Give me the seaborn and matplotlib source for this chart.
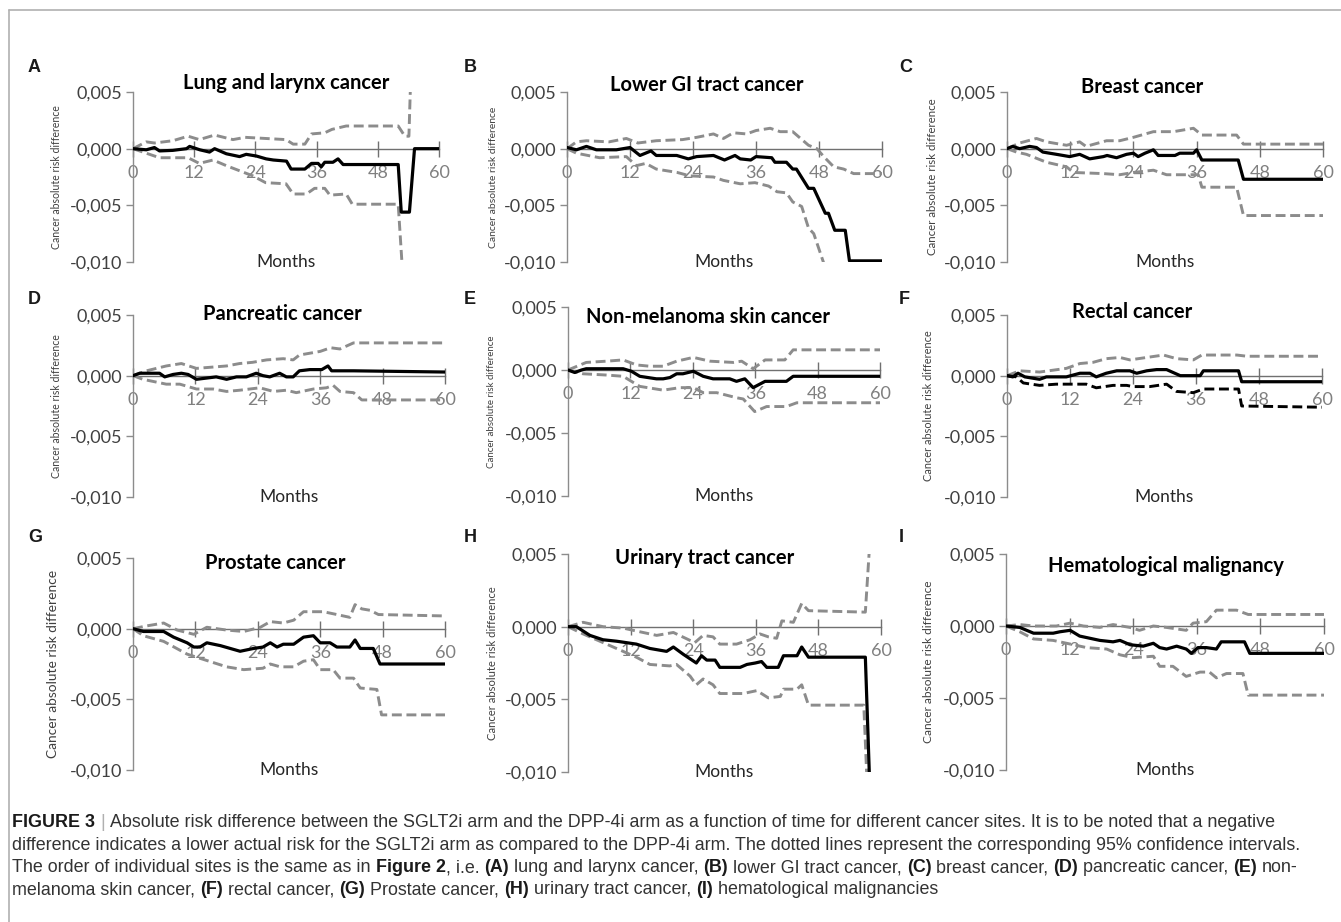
import matplotlib
matplotlib.use("Agg")
import matplotlib.pyplot as plt
import seaborn as sns
import pandas as pd
from matplotlib.lines import Line2D

W, H = 1341, 922
sns.set_theme(style="white")
plt.rcParams['font.family'] = ['Lato', 'DejaVu Sans']

# ---------------- data ----------------
letters = ["A", "B", "C", "D", "E", "F", "G", "H", "I"]
titles = ["Lung and larynx cancer", "Lower GI tract cancer", "Breast cancer",
          "Pancreatic cancer", "Non-melanoma skin cancer", "Rectal cancer",
          "Prostate cancer", "Urinary tract cancer", "Hematological malignancy"]
x_ticks = [0, 12, 24, 36, 48, 60]
x_tick_labels = ["0", "12", "24", "36", "48", "60"]
y_ticks = [0.005, 0.0, -0.005, -0.010]
y_tick_labels = ["0,005", "0,000", "-0,005", "-0,010"]
x_label = "Months"
y_label = "Cancer absolute risk difference"

# A: lung and larynx
a_m = [0, 2.6, 4.2, 5.2, 7.8, 10.5, 11.1, 13.1, 15, 16, 18.3, 20.9, 22.2, 24.2, 26.1, 27.5, 30.1, 31, 33.7, 35, 36.3, 36.9, 37.6, 39.2, 40.2, 41.2, 52, 52.6, 54.2, 55.2, 60]
a_v = [0, -0.0001, 0.0001, -0.0002, -0.00015, 0, 0.0002, -0.0001, -0.0003, 0, -0.00045, -0.0007, -0.0005, -0.00065, -0.0009, -0.001, -0.0011, -0.0018, -0.0018, -0.0013, -0.0013, -0.0016, -0.0012, -0.0012, -0.0009, -0.0014, -0.0014, -0.0056, -0.0056, 0, 0]
a_up_m = [0, 2.6, 4.2, 7.8, 10.8, 13, 16, 19.6, 22, 26, 30, 31.4, 33.7, 35, 37.6, 39, 41.8, 52, 53.3, 54.1, 54.4]
a_up_v = [0, 0.0006, 0.0005, 0.0007, 0.0011, 0.0008, 0.0012, 0.0008, 0.001, 0.0009, 0.0008, 0.0004, 0.0004, 0.0013, 0.0014, 0.0017, 0.002, 0.002, 0.0011, 0.0011, 0.0055]
a_lo_m = [0, 2.6, 5.2, 10.8, 13, 15.7, 18.3, 23.5, 26, 30, 31.4, 34, 35.6, 37.6, 38.6, 41.8, 43, 52, 52.8]
a_lo_v = [0, -0.0004, -0.0008, -0.0008, -0.0013, -0.001, -0.0015, -0.0024, -0.003, -0.0031, -0.004, -0.004, -0.0035, -0.0035, -0.0041, -0.004, -0.0049, -0.0049, -0.0105]

# B: lower GI tract
b_m = [0, 1.8, 3.7, 5.6, 9.4, 12, 13.9, 16, 17, 20.9, 23.1, 24.7, 27.9, 30, 32, 33, 35, 36, 39, 39.6, 41.8, 43, 43.7, 46, 47, 49.2, 49.8, 51, 53, 53.8, 60]
b_v = [0.0001, -0.0001, 0.0002, -0.0001, -0.0001, 0.0001, -0.0006, -0.0002, -0.0006, -0.0006, -0.0009, -0.0007, -0.0006, -0.001, -0.0006, -0.0009, -0.001, -0.0007, -0.0008, -0.0012, -0.0012, -0.0018, -0.0018, -0.0035, -0.0035, -0.0057, -0.0057, -0.0072, -0.0072, -0.0099, -0.0099]
b_up_m = [0, 1.8, 3.7, 8, 11.3, 13.5, 17, 22, 24.7, 27.9, 29.8, 31.7, 34.2, 36, 38.7, 40.6, 43, 46, 47.6, 48.9, 50.8, 52.7, 54.6, 60]
b_up_v = [0, 0.0006, 0.0007, 0.0006, 0.0009, 0.0005, 0.0007, 0.0008, 0.001, 0.0013, 0.0009, 0.0014, 0.0013, 0.0016, 0.0018, 0.0015, 0.0015, 0.0003, 0.0, -0.0007, -0.0016, -0.0018, -0.0022, -0.0022]
b_lo_m = [0, 1.8, 6.2, 11.3, 13.2, 15, 17, 21, 23.4, 27.9, 29.8, 33, 35.8, 38.4, 40, 41.8, 43, 44.7, 46, 47, 48.9]
b_lo_v = [0, -0.0004, -0.0008, -0.0007, -0.0015, -0.0013, -0.0018, -0.0021, -0.0024, -0.0025, -0.0028, -0.0031, -0.003, -0.0033, -0.0038, -0.0039, -0.0047, -0.0051, -0.007, -0.0075, -0.0101]

# C: breast
c_m = [0, 1.1, 2.4, 4.3, 5.6, 6.8, 9.4, 11.9, 13.8, 15.7, 18.3, 19, 20.8, 22.7, 24, 24.9, 26.2, 27.8, 28.7, 31.9, 32.8, 35.4, 36, 37, 43.9, 44.9, 60]
c_v = [0, 0.0002, 0, 0.0002, 0.0001, -0.0003, -0.0005, -0.0007, -0.0005, -0.0009, -0.0007, -0.0006, -0.0008, -0.0005, -0.0004, -0.0007, -0.0004, -0.0001, -0.0006, -0.0006, -0.0004, -0.0004, -0.0001, -0.001, -0.001, -0.0027, -0.0027]
c_up_m = [0, 2.4, 5.6, 7.5, 11.3, 13.8, 15, 18.9, 21.4, 24, 27.8, 31.6, 35.4, 37, 43.6, 44.9, 60]
c_up_v = [0, 0.0005, 0.0009, 0.0006, 0.0003, 0.0006, 0.0002, 0.0007, 0.0007, 0.001, 0.0015, 0.0015, 0.0018, 0.0012, 0.0012, 0.0004, 0.0004]
c_lo_m = [0, 1.8, 3.7, 7.5, 11.3, 12.6, 18.3, 21.4, 24, 27.8, 30.3, 34.1, 36.3, 37, 43.6, 44.9, 60]
c_lo_v = [0, -0.0003, -0.0005, -0.0012, -0.0016, -0.0021, -0.0022, -0.0023, -0.0021, -0.0019, -0.0023, -0.0023, -0.0023, -0.0034, -0.0034, -0.0059, -0.0059]

# D: pancreatic
d_m = [0, 1.3, 5.1, 6.1, 7.7, 9.3, 10.6, 12.2, 14.1, 16, 18, 19.9, 21.8, 23.7, 25, 26.3, 28.2, 29.5, 30.8, 32, 34, 36.3, 37.5, 38.2, 42.4, 60]
d_v = [0, 0.0002, 0.0002, -0.0001, 0.0001, 0.0002, 0.0001, -0.0003, -0.0002, -0.0001, -0.0003, -0.0001, -0.0001, 0.0002, 0, -0.0001, 0.0002, -0.0001, -0.0001, 0.0004, 0.0005, 0.0005, 0.0008, 0.0004, 0.0004, 0.0003]
d_up_m = [0, 2.6, 6.4, 9.3, 12.2, 18, 20.5, 23, 25.7, 28.9, 30.8, 32, 36, 38, 39.8, 42.4, 60]
d_up_v = [0, 0.0004, 0.0008, 0.001, 0.0006, 0.0008, 0.001, 0.0011, 0.0013, 0.0014, 0.0013, 0.0017, 0.002, 0.0023, 0.0022, 0.0027, 0.0027]
d_lo_m = [0, 1.9, 6.4, 9, 12.2, 15.4, 18, 20.5, 24.4, 27, 29.5, 31.4, 34.7, 37.2, 38.5, 39.8, 42.4, 44, 60]
d_lo_v = [0, -0.0003, -0.0007, -0.0007, -0.0011, -0.0011, -0.0013, -0.0012, -0.001, -0.0013, -0.0012, -0.0014, -0.0011, -0.001, -0.0008, -0.0013, -0.0014, -0.002, -0.002]

# E: non-melanoma skin
e_m = [0, 1.3, 2.6, 3.5, 10.6, 12.2, 13.8, 17, 18.3, 19.6, 20.9, 22.1, 24.1, 26, 27.9, 31.1, 32.4, 34, 35.6, 37.9, 42, 43.3, 60]
e_v = [0, -0.0002, 0, 0.0001, 0.0001, -0.0001, -0.0005, -0.0007, -0.0007, -0.0006, -0.0003, -0.0003, -0.0001, -0.0005, -0.0007, -0.0007, -0.0009, -0.0007, -0.0014, -0.0009, -0.0009, -0.0005, -0.0005]
e_up_m = [0, 3.5, 7.4, 10.6, 13.2, 15.7, 18.3, 20.9, 24.1, 27.3, 31.8, 33.4, 35.6, 37.9, 41.7, 43.3, 60]
e_up_v = [0, 0.0006, 0.0007, 0.0008, 0.0004, 0.0003, 0.0003, 0.0007, 0.001, 0.0007, 0.0006, 0.0007, 0.0001, 0.0008, 0.0008, 0.0016, 0.0016]
e_lo_m = [0, 2.9, 7.4, 10.6, 13.8, 18.3, 21.5, 24.1, 26, 28.6, 32.4, 33.7, 35.9, 38.2, 42, 44, 60]
e_lo_v = [0, -0.0003, -0.0004, -0.0005, -0.0013, -0.0016, -0.0014, -0.0014, -0.0018, -0.0018, -0.0022, -0.0023, -0.0033, -0.0029, -0.0029, -0.0026, -0.0026]

# F: rectal
f_m = [0, 1.1, 2.1, 3.4, 6.2, 7.5, 11.3, 13.9, 15.8, 17, 18.9, 20.9, 23.4, 24.7, 26.6, 28.5, 30.4, 33, 36.8, 37.4, 44.1, 44.7, 60]
f_v = [0, -0.0001, 0.0002, -0.0001, -0.0003, -0.0001, -0.0001, 0.0002, 0.0002, -0.0001, 0.0002, 0.0004, 0.0004, 0.0002, 0.0004, 0.0005, 0.0005, 0, 0, 0.0004, 0.0004, -0.0005, -0.0005]
f_up_m = [0, 2.4, 6.2, 11.3, 13.9, 16.4, 18.9, 21.5, 23.4, 26.6, 29.8, 32.3, 35.5, 37.1, 43.8, 45.7, 60]
f_up_v = [0, 0.0004, 0.0003, 0.0006, 0.001, 0.0011, 0.0014, 0.0015, 0.0013, 0.0015, 0.0017, 0.0014, 0.0013, 0.0017, 0.0017, 0.0016, 0.0016]
f_lo_m = [0, 1.8, 3.1, 6.2, 9.4, 15.1, 17, 20.2, 22.8, 24, 27.2, 30.4, 32.3, 35.5, 37.4, 44.1, 44.7, 60]
f_lo_v = [0, -0.0001, -0.0006, -0.0008, -0.0007, -0.0007, -0.001, -0.0008, -0.0008, -0.0009, -0.0009, -0.0007, -0.0013, -0.0014, -0.0011, -0.0011, -0.0025, -0.0026]

# G: prostate
g_m = [0, 2, 5.9, 7.8, 10.4, 11.7, 12.9, 14.2, 16.8, 18.7, 20.6, 23.2, 25, 26.4, 27.7, 28.9, 30.9, 32.8, 34.7, 36, 37.9, 39.2, 41.7, 42.7, 43.7, 46.2, 47.5, 60]
g_v = [0, -0.0002, -0.0002, -0.0006, -0.001, -0.0013, -0.0013, -0.001, -0.0012, -0.0014, -0.0016, -0.0014, -0.0013, -0.001, -0.0013, -0.0011, -0.0011, -0.0006, -0.0005, -0.001, -0.001, -0.0013, -0.0013, -0.0008, -0.0014, -0.0014, -0.0025, -0.0025]
g_up_m = [0, 2.7, 5.9, 8.5, 11.7, 14.2, 18, 21.3, 24.5, 26.4, 28.9, 30.9, 32.8, 36.6, 39.2, 41.7, 42.7, 44, 45.6, 47.2, 60]
g_up_v = [0, 0.0002, 0.0004, -0.0001, -0.0004, 0.0001, -0.0001, -0.0002, 0.0001, 0.0005, 0.0004, 0.0006, 0.0012, 0.0012, 0.001, 0.0008, 0.0017, 0.0014, 0.0013, 0.001, 0.0009]
g_lo_m = [0, 2, 5.9, 10.4, 12.9, 18, 21.3, 25, 26.4, 28.3, 30.9, 32.8, 34.7, 36, 38.5, 39.8, 42.4, 43.7, 46.9, 47.8, 60]
g_lo_v = [0, -0.0005, -0.0009, -0.0018, -0.0021, -0.0027, -0.0029, -0.0028, -0.0025, -0.0027, -0.0027, -0.0023, -0.0022, -0.0029, -0.0029, -0.0035, -0.0035, -0.0042, -0.0043, -0.0061, -0.0061]

# H: urinary tract
h_m = [0, 1.6, 4.2, 6.7, 9.3, 13.1, 15.7, 18.9, 20.2, 22.1, 24.6, 25.6, 26.6, 28.2, 29.1, 33, 34.3, 35.9, 37.1, 38.1, 40.3, 41.3, 43.9, 44.8, 46.1, 57, 57.8]
h_v = [0, 0, -0.0006, -0.0009, -0.001, -0.0012, -0.0015, -0.0017, -0.0014, -0.0019, -0.0025, -0.002, -0.0023, -0.0023, -0.0028, -0.0028, -0.0026, -0.0025, -0.0024, -0.0028, -0.0028, -0.002, -0.002, -0.0014, -0.0021, -0.0021, -0.0105]
h_up_m = [0, 2.9, 6.7, 10.6, 13.1, 17, 20.2, 24.3, 25.9, 27.8, 29.1, 32.3, 34.9, 36.8, 38.4, 40, 41, 43.2, 44.8, 46.1, 57, 57.8]
h_up_v = [0, 0.0003, 0, -0.0001, -0.0003, -0.0006, -0.0004, -0.0011, -0.0006, -0.0007, -0.0012, -0.0012, -0.0009, -0.0005, -0.0007, -0.0008, 0.0004, 0.0003, 0.0016, 0.0011, 0.001, 0.0055]
h_lo_m = [0, 2.9, 6.1, 9.3, 13.1, 15.7, 19.5, 20.8, 23.4, 24.6, 25.9, 27.8, 29.1, 33.6, 36.2, 38.4, 40.7, 41.3, 43.9, 44.8, 46.1, 56.7, 57.3]
h_lo_v = [0, -0.0005, -0.001, -0.0015, -0.0021, -0.0026, -0.0027, -0.0026, -0.0034, -0.004, -0.0036, -0.004, -0.0046, -0.0046, -0.0044, -0.0049, -0.0048, -0.0043, -0.0043, -0.004, -0.0054, -0.0054, -0.0105]

# I: hematological
i_m = [0, 2.6, 5.2, 8.9, 10.2, 12.1, 13.9, 17.7, 20.2, 21.5, 23.4, 25.9, 27.8, 29, 30.3, 32.2, 34, 35, 36.2, 37.8, 39.7, 40.6, 45, 46, 60]
i_v = [0, -0.0001, -0.0005, -0.0005, -0.0004, -0.0003, -0.0007, -0.001, -0.0011, -0.001, -0.0013, -0.0014, -0.0012, -0.0015, -0.0016, -0.0014, -0.0016, -0.0019, -0.0015, -0.0015, -0.0016, -0.0011, -0.0011, -0.0019, -0.0019]
i_up_m = [0, 2.6, 5.2, 9.5, 12.1, 14.6, 17.7, 20.2, 23.4, 25.2, 27.8, 30.3, 34, 35.3, 37.8, 39.7, 43.5, 45.7, 60]
i_up_v = [0, 0.0001, 0, 0, 0.0002, 0, -0.0001, 0.0001, -0.0001, -0.0003, 0, -0.0001, -0.0003, 0.0002, 0.0003, 0.0011, 0.0011, 0.0008, 0.0008]
i_lo_m = [0, 2.6, 5.2, 8.9, 12.7, 15.2, 19, 21.5, 24, 27.8, 29, 31.5, 34, 36.6, 38.4, 39.7, 41.6, 44.7, 45.7, 60]
i_lo_v = [0, -0.0004, -0.0009, -0.001, -0.0013, -0.0015, -0.0016, -0.002, -0.0022, -0.0021, -0.0028, -0.0028, -0.0035, -0.0032, -0.0032, -0.0036, -0.0033, -0.0033, -0.0048, -0.0048]

caption_lines = [
    [("FIGURE 3", True), (" | ", "bar"), ("Absolute risk difference between the SGLT2i arm and the DPP-4i arm as a function of time for different cancer sites. It is to be noted that a negative", False)],
    [("difference indicates a lower actual risk for the SGLT2i arm as compared to the DPP-4i arm. The dotted lines represent the corresponding 95% confidence intervals.", False)],
    [("The order of individual sites is the same as in ", False), ("Figure 2", True), (", i.e. ", False), ("(A)", True),
     (" lung and larynx cancer, ", False), ("(B)", True), (" lower GI tract cancer, ", False), ("(C)", True),
     (" breast cancer, ", False), ("(D)", True), (" pancreatic cancer, ", False), ("(E)", True), (" non-", False)],
    [("melanoma skin cancer, ", False), ("(F)", True), (" rectal cancer, ", False), ("(G)", True),
     (" Prostate cancer, ", False), ("(H)", True), (" urinary tract cancer, ", False), ("(I)", True),
     (" hematological malignancies", False)],
]

panels = [
    (a_m, a_v, a_up_m, a_up_v, a_lo_m, a_lo_v),
    (b_m, b_v, b_up_m, b_up_v, b_lo_m, b_lo_v),
    (c_m, c_v, c_up_m, c_up_v, c_lo_m, c_lo_v),
    (d_m, d_v, d_up_m, d_up_v, d_lo_m, d_lo_v),
    (e_m, e_v, e_up_m, e_up_v, e_lo_m, e_lo_v),
    (f_m, f_v, f_up_m, f_up_v, f_lo_m, f_lo_v),
    (g_m, g_v, g_up_m, g_up_v, g_lo_m, g_lo_v),
    (h_m, h_v, h_up_m, h_up_v, h_lo_m, h_lo_v),
    (i_m, i_v, i_up_m, i_up_v, i_lo_m, i_lo_v),
]

# ---------------- layout (pixels) ----------------
ax_boxes = [  # left, right, top, bottom
    (133, 439, 92, 262), (567, 882, 92, 262), (1007, 1323, 92, 262),
    (133, 445, 315, 497), (568, 880, 307, 496), (1007, 1322, 315, 497),
    (133, 445, 558, 770), (568, 881, 554, 772), (1006, 1324, 554, 770),
]
title_pos = [(286, 83), (707, 85), (1142, 87), (282, 314), (708, 317), (1132, 312),
             (275, 563), (705, 558), (1166, 566)]
letter_pos = [(28, 68), (464, 68), (899, 68), (28, 299), (464, 299), (899, 299),
              (28, 538), (464, 538), (899, 538)]
ylab_x = [57, 493, 933, 57, 492, 929, 53, 493, 928]
ylab_size = [7.6, 7.5, 8.3, 7.6, 7.0, 7.9, 9.9, 8.1, 8.6]
lower_colors = ["#8c8c8c"] * 5 + ["black"] + ["#8c8c8c"] * 3

fig = plt.figure(figsize=(W / 100, H / 100), dpi=100)
fig.patch.set_facecolor("white")

def fx(x):
    return x / W

def fy(y):
    return 1 - y / H

GRAY = "#8c8c8c"
for k, (box, data) in enumerate(zip(ax_boxes, panels)):
    l, r, t, b = box
    ax = fig.add_axes([fx(l), fy(b), (r - l) / W, (b - t) / H])
    m, v, um, uv, lm, lv = data
    series = [
        (pd.DataFrame({"month": um, "value": uv}), GRAY, True),
        (pd.DataFrame({"month": lm, "value": lv}), lower_colors[k], True),
        (pd.DataFrame({"month": m, "value": v}), "black", False),
    ]
    for df, col, dashed in series:
        sns.lineplot(data=df, x="month", y="value", ax=ax, color=col,
                     estimator=None, sort=False, linewidth=2.3, zorder=3)
        ln = ax.lines[-1]
        if dashed:
            ln.set_dashes((3.4, 1.6))
            ln.set_linewidth(2.1)
    ax.set_xlim(0, 60)
    ax.set_ylim(-0.010, 0.005)
    ax.patch.set_alpha(0)
    for s in ("top", "right"):
        ax.spines[s].set_visible(False)
    ax.spines["bottom"].set_position(("data", 0))
    ax.spines["bottom"].set_color("#707070")
    ax.spines["bottom"].set_linewidth(1.0)
    ax.spines["left"].set_color("#8c8c8c")
    ax.spines["left"].set_linewidth(1.0)
    ax.set_xticks(x_ticks)
    ax.set_xticklabels(x_tick_labels)
    ax.set_yticks(y_ticks)
    ax.set_yticklabels(y_tick_labels)
    ax.tick_params(axis="x", direction="inout", length=11, width=1, color="#707070",
                   labelcolor="#808080", labelsize=13, pad=6, bottom=True)
    ax.tick_params(axis="y", direction="out", length=5, width=1, color="#8c8c8c",
                   labelcolor="#404040", labelsize=13, pad=3, left=True)
    ax.set_xlabel("")
    ax.set_ylabel("")
    # Months label
    ax.text(0.5, 0.0, x_label, transform=ax.transAxes, ha="center", va="center",
            fontsize=12.5, color="#262626")
    # title
    fig.text(fx(title_pos[k][0]), fy(title_pos[k][1]), titles[k], ha="center", va="center",
             fontsize=14.5, fontweight="bold", color="black")
    # panel letter
    fig.text(fx(letter_pos[k][0]), fy(letter_pos[k][1]), letters[k], ha="left", va="center",
             fontsize=13, fontweight="bold", color="#1a1a1a", family="Liberation Sans")
    # y label
    fig.text(fx(ylab_x[k]), fy((t + b) / 2), y_label, rotation=90, ha="center", va="center",
             fontsize=ylab_size[k], color="#404040")

# frame lines
fig.add_artist(Line2D([fx(9), 1], [fy(10), fy(10)], color="#b0b0b0", lw=1.2))
fig.add_artist(Line2D([fx(9), fx(9)], [fy(10), 0], color="#b0b0b0", lw=1.2))

# caption with mixed weights
renderer = fig.canvas.get_renderer()
CAP_FONT = "Liberation Sans"

def text_width(s, bold, size):
    t = fig.text(0, 0, s, fontsize=size, family=CAP_FONT, fontweight="bold" if bold else "normal")
    w = t.get_window_extent(renderer).width
    t.remove()
    return w

cap_size = 11.0
target = 1297 - 12
w2 = text_width(caption_lines[1][0][0], False, cap_size)
cap_size = cap_size * target / w2
space_w = text_width("a a", False, cap_size) - text_width("aa", False, cap_size)

baselines = [827, 850, 872, 894]
for parts, yb in zip(caption_lines, baselines):
    x = 12.0
    for s, style in parts:
        lead = len(s) - len(s.lstrip(" "))
        trail = len(s) - len(s.rstrip(" "))
        core = s.strip(" ")
        x += lead * space_w
        bold = style is True
        color = "#b0b0b0" if style == "bar" else ("#1a1a1a" if bold else "#333333")
        t = fig.text(fx(x), fy(yb), core, fontsize=cap_size, family=CAP_FONT,
                     fontweight="bold" if bold else "normal", color=color,
                     ha="left", va="baseline")
        x += t.get_window_extent(renderer).width
        x += trail * space_w

fig.savefig("out.png", dpi=100, facecolor="white")
